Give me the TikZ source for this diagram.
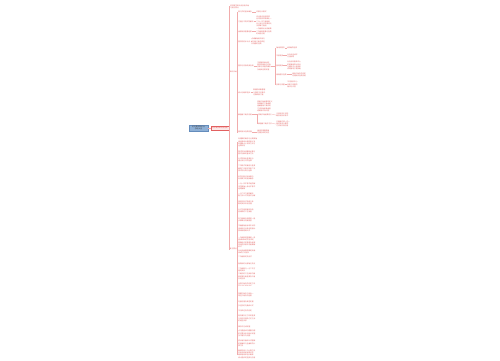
\documentclass[tikz,border=0pt]{standalone}
\usepackage{fontspec}
\setmainfont{Noto Sans CJK SC}
\XeTeXlinebreaklocale "zh"
\XeTeXlinebreakskip=0pt plus 0.5pt
\definecolor{tx}{RGB}{226,96,96}
\definecolor{ln}{RGB}{241,172,172}
\definecolor{rootfill}{RGB}{142,176,214}
\definecolor{rootline}{RGB}{100,140,188}
\definecolor{pk}{RGB}{253,234,234}
\begin{document}
\begin{tikzpicture}[x=1pt,y=-1pt,
  every node/.style={inner sep=0.3pt, outer sep=0pt},
  lab/.style={anchor=west, text=tx, font=\fontsize{1.7}{2.3}\selectfont},
  leaf/.style={lab, align=left},
  conn/.style={draw=ln, line width=0.3pt}]
\useasboundingbox (0,0) rectangle (500,360);
\fill[white] (0,0) rectangle (500,360);

% root and level 1
\node[draw=rootline, fill=rootfill, text=black!75, font=\fontsize{1.8}{2.3}\selectfont,
      minimum width=19pt, minimum height=5.5pt, align=center, inner sep=0.4pt, line width=0.3pt]
      (root) at (198.5,128) {初中数学知识点\\总结大全};
\node[draw=tx, fill=pk, text=tx, font=\fontsize{1.7}{2.3}\selectfont,
      minimum width=18pt, minimum height=4.5pt, inner sep=0.4pt, line width=0.3pt]
      (l1) at (220,128) {初中数学知识点总结};
\draw[conn] (root.east) -- (l1.west);

% level 2
\node[leaf] (A) at (230,6.5) {初中数学知识点总结归纳\\与复习要点};
\node[lab] (B) at (229.6,72) {知识归纳};
\node[lab] (C) at (229.6,249) {复习要点};
\coordinate (j1) at (229.4,128);
\draw[conn] (l1.east) -- (j1);
\draw[conn] (j1) |- (A.west);
\draw[conn] (j1) |- (B.west);
\draw[conn] (j1) |- (C.west);

% children of B
\coordinate (jb) at (237,72);
\draw[conn] (B.east) -- (jb);

\node[lab] (b1) at (238,12) {数与式的基本概念};
\node[leaf] (b1t) at (256,12) {实数与代数式};
\node[lab] (b2) at (238,21.5) {方程与不等式的解法};
\node[leaf] (b2t) at (256,21.5) {去分母去括号移项\\合并同类项系数化一\\二元一次方程组用\\代入消元法加减消元\\法求解方程组};
\node[lab] (b3) at (238,31.5) {函数及其图像性质};
\node[leaf] (b3t) at (256,31.5) {一次函数反比例函数\\二次函数图像与性质\\的综合应用};
\node[lab] (b4) at (238,41.5) {图形的初步认识};
\node[leaf] (b4t) at (251,41.5) {点线面角相交线与\\平行线三角形四边\\形及圆的性质};
\node[lab] (b5) at (238,66) {图形与变换及其应用};
\node[leaf] (b5t) at (257,66) {平移旋转轴对称\\图形的相似与位似\\投影与视图的概念\\及相关性质定理};
\node[lab] (b6) at (238,92.5) {统计与概率初步};
\node[leaf] (b6t) at (253,92.5) {数据的收集整理\\与描述平均数中\\位数众数方差};
\node[lab] (b7) at (238,114.5) {解直角三角形应用};
\node[leaf, anchor=south west] (b7t) at (257,112) {锐角三角函数的定义\\特殊角的三角函数\\值解直角三角形的\\方法仰角俯角坡度\\坡角等实际问题};
\node[lab] (b8) at (238,132) {圆的有关性质定理};
\node[leaf] (b8t) at (257,132) {垂径定理圆周角\\定理切线的判定};

\foreach \n in {b1,b2,b3,b4,b5,b6,b7,b8}{\draw[conn] (jb) |- (\n.west);}
\foreach \n in {b1,b2,b3,b4,b5,b6,b8}{\draw[conn] (\n.east) -- (\n t.west);}

% children of b5
\coordinate (j5) at (275,66);
\draw[conn] (b5t.east) -- (j5);
\node[lab] (c1) at (276,48) {轴对称图形};
\node[leaf] (c1t) at (286.5,48) {对称轴的性质};
\node[lab] (c2) at (276,55.5) {平移变换};
\node[leaf] (c2t) at (287,55.5) {对应点连线平\\行且相等};
\node[lab] (c3) at (276,65.5) {旋转变换};
\node[leaf] (c3t) at (287,65.5) {对应点到旋转中心\\的距离相等对应点\\与旋转中心连线所\\成的角等于旋转角};
\node[lab] (c4) at (276,74.5) {相似图形性质};
\node[leaf] (c4t) at (292,74.5) {相似三角形的判定\\定理及其性质应用};
\node[lab] (c5) at (276,84.5) {投影与视图};
\node[leaf] (c5t) at (287,84.5) {平行投影中心\\投影三视图的\\画法与识别};
\foreach \n in {c1,c2,c3,c4,c5}{\draw[conn] (j5) |- (\n.west); \draw[conn] (\n.east) -- (\n t.west);}

% children of b7
\coordinate (j7) at (256.8,114.5);
\draw[conn] (b7.east) -- (j7);
\node[lab] (d1) at (258,114.5) {锐角三角函数定义};
\node[leaf] (d1t) at (276,115) {正弦余弦正切的\\概念及其关系式};
\node[lab] (d2) at (258,123.5) {解直角三角形方法};
\node[leaf] (d2t) at (276,124) {已知两边或一边一\\角求其余元素的\\方法及实际应用};
\foreach \n in {d1,d2}{\draw[conn] (j7) |- (\n.west); \draw[conn] (\n.east) -- (\n t.west);}

% children of C
\coordinate (jc) at (237,249);
\draw[conn] (C.east) -- (jc);
\node[leaf] (e1) at (238,142.5) {有理数的概念与分类数轴\\相反数绝对值的意义及\\有理数大小比较方法与\\运算法则};
\node[leaf] (e2) at (238,152.5) {整式的加减乘除运算与\\因式分解的基本方法};
\node[leaf] (e3) at (238,160) {分式的基本性质约分\\通分及分式的运算};
\node[leaf] (e4) at (238,168.5) {二次根式的概念与性质\\最简二次根式同类二次\\根式的化简与运算};
\node[leaf] (e5) at (238,177.5) {科学记数法近似数与\\有效数字的相关概念};
\node[leaf] (e6) at (238,186.5) {一元一次不等式组的解\\法在数轴上表示不等式\\组的解集};
\node[leaf] (e7) at (238,195) {一元二次方程的解法\\配方法公式法因式分解};
\node[leaf] (e8) at (238,202.5) {根的判别式及根与系\\数的关系韦达定理};
\node[leaf] (e9) at (238,210.5) {分式方程的解法及检\\验增根的产生原因};
\node[leaf] (e10) at (238,219.5) {列方程解应用题的一般\\步骤审设列解验答};
\node[leaf] (e11) at (238,228.5) {平面直角坐标系中点的\\坐标特征对称点的坐标\\规律及距离公式};
\node[leaf] (e12) at (238,242.5) {一次函数的图像是一条\\直线k和b的符号决定\\图像经过的象限及增减\\性待定系数法求函数解\\析式};
\node[leaf] (e13) at (238,251.5) {反比例函数图像是双曲\\线k的几何意义};
\node[leaf] (e14) at (238,256.5) {二次函数的顶点式};
\node[leaf] (e15) at (238,263.5) {抛物线的对称轴与顶点};
\node[leaf] (e16) at (238,270) {二次函数与一元二次方\\程的关系};
\node[leaf] (e17) at (238,276.5) {三角形的三边关系内角\\和定理外角性质及三角\\形的分类};
\node[leaf] (e18) at (238,285) {全等三角形的判定方法\\SSS SAS ASA AAS};
\node[leaf] (e19) at (238,294.5) {等腰三角形三线合一\\等边三角形的性质};
\node[leaf] (e20) at (238,301.5) {勾股定理及其逆定理};
\node[leaf] (e21) at (238,306) {多边形的内角和公式};
\node[leaf] (e22) at (238,311) {平行四边形的判定};
\node[leaf] (e23) at (238,318.5) {矩形菱形正方形的性质\\与判定定理及它们之间\\的相互关系};
\node[leaf] (e24) at (238,326.5) {梯形中位线定理};
\node[leaf] (e25) at (238,333.5) {点与圆直线与圆圆与圆\\的位置关系切线长定理\\及三角形内切圆};
\node[leaf] (e26) at (238,343.5) {弧长扇形面积公式圆锥\\的侧面积与全面积的计\\算方法};
\node[leaf] (e27) at (238,354) {概率的意义与计算方法\\列表法和树状图法求\\概率用频率估计概率\\统计图表的选择与应用};
\foreach \n in {1,...,27}{\draw[conn] (jc) |- (e\n.west);}
\end{tikzpicture}
\end{document}
